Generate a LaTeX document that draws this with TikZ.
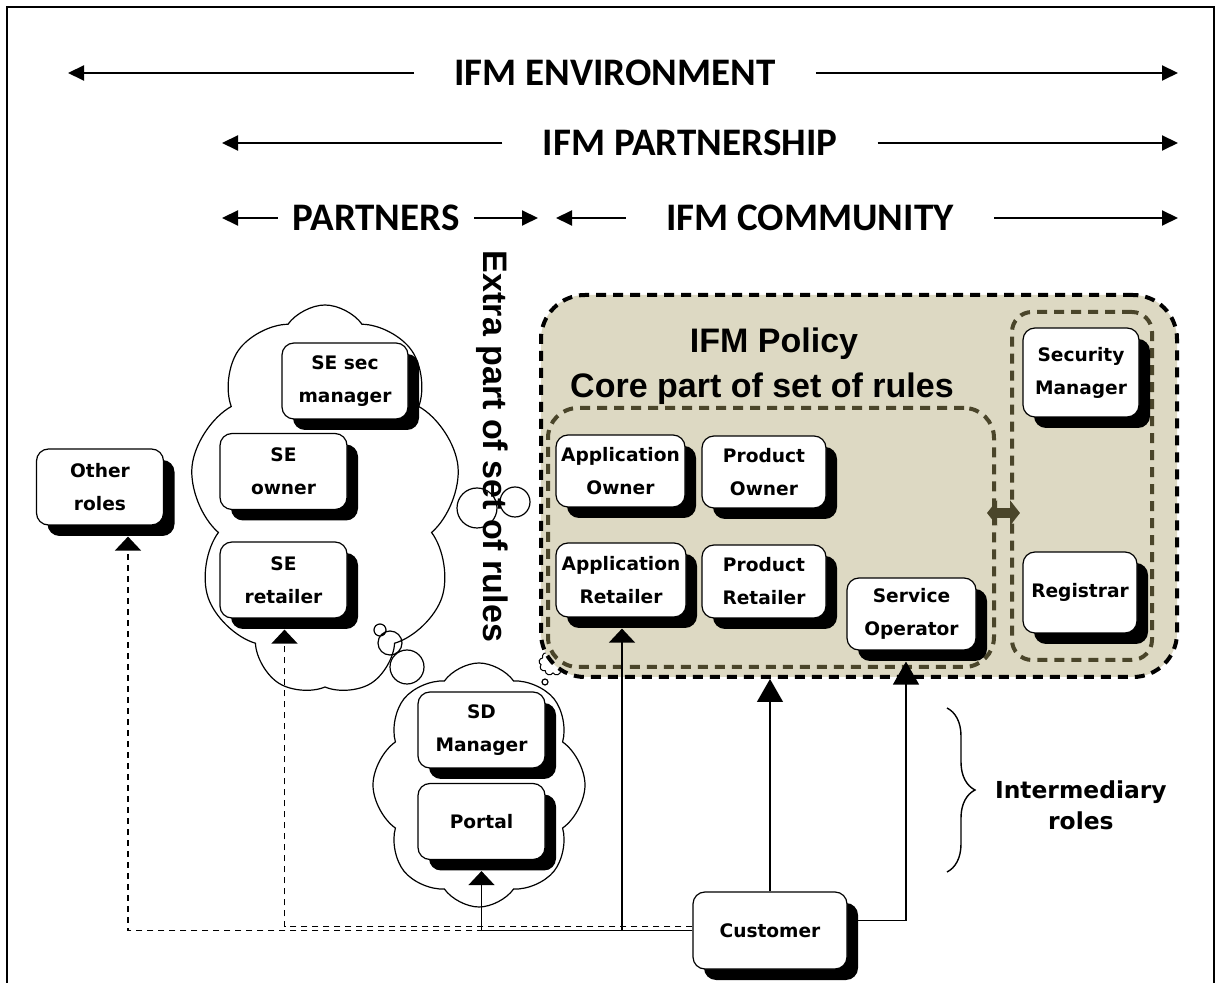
\documentclass[tikz,border=0pt]{standalone}
\usepackage{fontspec}
\newfontfamily\titlefont{Carlito}
\newfontfamily\rolefont{DejaVu Sans}
\newfontfamily\rulefont{Liberation Sans}
\usetikzlibrary{arrows.meta,shapes.symbols,shadows,decorations.pathreplacing}
\definecolor{PolicyFill}{HTML}{DDD9C3}
\definecolor{PolicyLine}{HTML}{4A452A}

\begin{document}
\begin{tikzpicture}[x=0.5pt,y=-0.5pt,
  title/.style={font=\titlefont\bfseries\fontsize{19.5}{23}\selectfont,inner xsep=20pt},
  span/.style={line width=1pt,-{Triangle[length=8pt,width=7.5pt]}},
  role/.style={draw,line width=0.6pt,fill=white,rounded corners=6pt,align=center,
    font=\rolefont\bfseries\fontsize{9.3}{16.5}\selectfont,inner sep=1pt,
    minimum width=63.5pt,minimum height=38pt,
    drop shadow={shadow xshift=5.5pt,shadow yshift=-5.5pt,fill=black,opacity=1}},
  bubble/.style={cloud,draw,fill=white,line width=0.6pt,cloud ignores aspect},
  frame/.style={draw,dash pattern=on 5pt off 3.5pt,line width=2pt,rounded corners=#1},
  rules/.style={font=\rulefont\bfseries\fontsize{17}{20}\selectfont,anchor=base},
  link/.style={line width=0.7pt,shorten >=5.5pt,-{Triangle[length=7pt,width=13pt]}},
  tall/.style={line width=0.7pt,-{Triangle[length=11.5pt,width=13pt]}},
  dashlink/.style={dash pattern=on 3pt off 2.5pt}]
\useasboundingbox (0,0) rectangle (1222,983);
\clip (0,0) rectangle (1222,983);
\draw[line width=1pt] (7,7) rectangle (1214,995);

\node[title] (env) at (615,73) {IFM ENVIRONMENT};
\node[title] (ship) at (690,143) {IFM PARTNERSHIP};
\node[title,inner xsep=7pt] (partners) at (376,218) {PARTNERS};
\node[title] (community) at (810,218) {IFM COMMUNITY};
\coordinate (envL) at (68,73);   \coordinate (envR) at (1178,73);
\coordinate (shipL) at (222,143); \coordinate (shipR) at (1178,143);
\coordinate (partL) at (222,218); \coordinate (partR) at (538,218);
\coordinate (commL) at (556,218); \coordinate (commR) at (1178,218);
\draw[span] (env.west) -- (envL);
\draw[span] (env.east) -- (envR);
\draw[span] (ship.west) -- (shipL);
\draw[span] (ship.east) -- (shipR);
\draw[span] (partners.west) -- (partL);
\draw[span] (partners.east) -- (partR);
\draw[span] (community.west) -- (commL);
\draw[span] (community.east) -- (commR);

\node[bubble,cloud puffs=9,cloud puff arc=110,minimum width=135pt,minimum height=195pt] (secloud) at (325,500) {};
\node[bubble,cloud puffs=8,cloud puff arc=110,minimum width=106pt,minimum height=122pt] (sdcloud) at (479,785) {};
\node[bubble,cloud puffs=9,line width=0.5pt,minimum width=14pt,minimum height=12.5pt] (puff) at (553,663) {};
\draw[line width=0.6pt] (380,630) circle[radius=3pt] (390,643) circle[radius=6pt]
  (407,667) circle[radius=8.5pt] (545,682) circle[radius=1.5pt];

\node[frame=22pt,fill=PolicyFill,minimum width=318pt,minimum height=191pt] (policy) at (859,486) {};
\node[frame=15pt,draw=PolicyLine,minimum width=223pt,minimum height=129.5pt] (core) at (771,537.5) {};
\node[frame=10pt,draw=PolicyLine,minimum width=70pt,minimum height=174pt] (admin) at (1082,486) {};
\node[rules] (pol) at (774,353) {IFM Policy};
\node[rules] (corerules) at (762,398) {Core part of set of rules};
\node[rules,rotate=-90] (extra) at (483,446.5) {Extra part of set of rules};
\draw[line width=0.6pt] (477,508) circle[radius=10pt] (515,502) circle[radius=7.5pt];

\node[role] (other) at (100,487) {Other\\roles};
\node[role,minimum width=63pt] (sesec) at (345,381) {SE sec\\manager};
\node[role] (seown) at (283.5,471.5) {SE\\owner};
\node[role] (seret) at (283.5,580) {SE\\retailer};
\node[role,minimum width=64.5pt,minimum height=36pt] (appown) at (620.5,471) {Application\\Owner};
\node[role,minimum width=62pt,minimum height=36pt] (prodown) at (764,472) {Product\\Owner};
\node[role,minimum width=65pt,minimum height=37pt] (appret) at (621,580) {Application\\Retailer};
\node[role,minimum width=62pt,minimum height=36.5pt] (prodret) at (764,581.5) {Product\\Retailer};
\node[role,minimum width=64.5pt,minimum height=36pt] (svcop) at (911.5,614) {Service\\Operator};
\node[role,minimum width=58pt,minimum height=44.5pt] (secman) at (1081,372.5) {Security\\Manager};
\node[role,minimum width=57pt,minimum height=40.5pt] (registrar) at (1080,592.5) {Registrar};
\node[role] (sdman) at (481.5,730) {SD\\Manager};
\node[role] (portal) at (481.5,821.5) {Portal};
\node[role,minimum width=77pt,minimum height=38.5pt] (customer) at (770,930.5) {Customer};

\coordinate (linkpt) at (1003,513);
\draw[PolicyLine,line width=5pt,{Triangle[length=5pt,width=12.5pt]}-{Triangle[length=5pt,width=12.5pt]},
  shorten <=-4.5pt,shorten >=-5pt] (core.east |- linkpt) -- (admin.west |- linkpt);

\draw[link,dashlink] (customer.west) -| ([xshift=14pt]other.south);
\draw[link,dashlink] ([yshift=2pt]customer.west) -| ([xshift=0.5pt]seret.south);
\draw[link] (customer.west) -| (portal.south);
\draw[link] (customer.west) -| ([xshift=0.5pt]appret.south);
\draw[tall] (customer.north) -- (customer.north |- policy.south);
\draw[tall,shorten >=5.5pt] ([yshift=5pt]customer.east) -| ([xshift=-2.75pt]svcop.south);

\draw[line width=0.7pt,decorate,decoration={brace,amplitude=14pt}] (947,708) -- (947,872);
\node[font=\rolefont\bfseries\fontsize{11.7}{15.5}\selectfont,align=center,anchor=west] (inter) at (988,805) {Intermediary\\roles};
\end{tikzpicture}
\end{document}
